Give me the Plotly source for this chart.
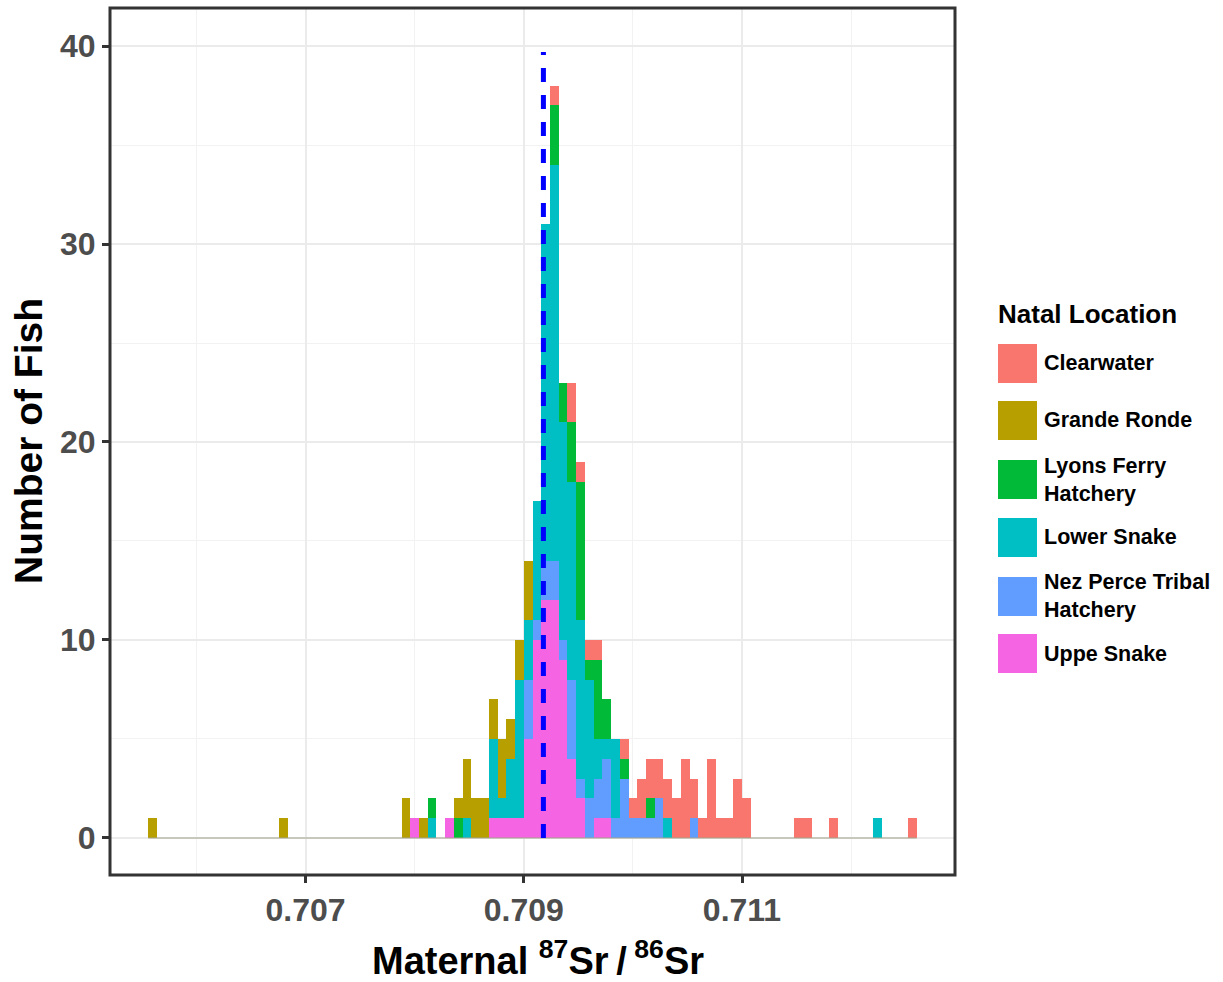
import plotly.graph_objects as go

# ---- histogram binning (87Sr/86Sr) ----
BIN_START = 0.70556
BIN_WIDTH = 0.00008
N_BINS = 88

# ---- counts per bin index, one dict per natal location ----
uppe_snake = {30: 1, 34: 1, 39: 1, 40: 1, 41: 1, 42: 1, 43: 5, 44: 10, 45: 12,
              46: 12, 47: 9, 48: 4, 49: 2, 51: 1, 52: 1}
nez_perce = {43: 3, 44: 1, 45: 2, 46: 2, 47: 1, 48: 4, 49: 1, 50: 2, 51: 2,
             52: 3, 53: 1, 54: 3, 55: 1, 56: 1, 57: 1, 58: 2, 62: 1}
lower_snake = {32: 1, 36: 1, 39: 4, 40: 1, 41: 3, 42: 7, 43: 3, 44: 6, 45: 17,
               46: 20, 47: 11, 48: 10, 49: 8, 50: 6, 51: 2, 52: 1, 53: 4,
               59: 1, 83: 1}
lyons_ferry = {32: 1, 35: 1, 46: 3, 47: 2, 48: 3, 49: 7, 50: 1, 51: 4, 52: 2,
               54: 1, 57: 1}
grande_ronde = {0: 1, 15: 1, 29: 2, 31: 1, 35: 1, 36: 3, 37: 2, 38: 2, 39: 2,
                40: 3, 41: 2, 42: 2, 43: 3}
clearwater = {46: 1, 48: 2, 49: 1, 50: 1, 51: 1, 54: 1, 55: 1, 56: 2, 57: 2,
              58: 2, 59: 2, 60: 2, 61: 4, 62: 2, 63: 1, 64: 4, 65: 1, 66: 1,
              67: 3, 68: 2, 74: 1, 75: 1, 78: 1, 87: 1}

# legend order (top to bottom) and stacking order (bottom to top is reversed)
location_names = ["Clearwater", "Grande Ronde", "Lyons Ferry<br>Hatchery",
                  "Lower Snake", "Nez Perce Tribal<br>Hatchery", "Uppe Snake"]
location_counts = [clearwater, grande_ronde, lyons_ferry, lower_snake,
                   nez_perce, uppe_snake]
location_colors = ["#F8766D", "#B79F00", "#00BA38", "#00BFC4", "#619CFF", "#F564E3"]

# mean maternal ratio, drawn as dashed reference line
mean_ratio = 0.70918
mean_line_top = 39.7

x_ticks = [0.707, 0.709, 0.711]
x_minor = [0.706, 0.708, 0.710, 0.712]
y_ticks = [0, 10, 20, 30, 40]
y_minor = [5, 15, 25, 35]

X_RANGE = [0.705208, 0.712952]
Y_RANGE = [-1.87, 41.92]

FONT = "Liberation Sans, Arial, Helvetica, sans-serif"

# plot-area geometry in pixels
W, H = 1223, 982
PL, PR, PT, PB = 110, 955, 8, 875


def px_x(px):
    return (px - PL) / (PR - PL)


def px_y(py):
    return (PB - py) / (PB - PT)


centers = [BIN_START + (i + 0.5) * BIN_WIDTH for i in range(N_BINS)]
edges = [BIN_START, BIN_START + N_BINS * BIN_WIDTH]

fig = go.Figure()

# thin baseline left by the empty bins
fig.add_trace(go.Scatter(x=edges, y=[0, 0], mode="lines",
                         line=dict(color="#A4A48C", width=1.2),
                         hoverinfo="skip", showlegend=False))

for name, counts, color in reversed(list(zip(location_names, location_counts,
                                              location_colors))):
    fig.add_trace(go.Bar(
        x=centers,
        y=[counts.get(i, 0) for i in range(N_BINS)],
        width=BIN_WIDTH,
        marker=dict(color=color, line=dict(width=0)),
        name=name.replace("<br>", " "),
        showlegend=False,
    ))

fig.add_trace(go.Scatter(x=[mean_ratio, mean_ratio], y=[0, mean_line_top],
                         mode="lines",
                         line=dict(color="#0000FF", width=5, dash="14px,13px"),
                         hoverinfo="skip", showlegend=False))

axis_common = dict(
    showgrid=True, gridcolor="#EBEBEB", gridwidth=1.6,
    zeroline=False, showline=False,
    ticks="outside", ticklen=7, tickwidth=2.5, tickcolor="#333333",
    tickfont=dict(family=FONT, size=32, color="#4D4D4D", weight="bold"),
)

fig.update_xaxes(range=X_RANGE, tickmode="array", tickvals=x_ticks,
                 ticktext=[f"{v:.3f}" for v in x_ticks],
                 minor=dict(tickmode="array", tickvals=x_minor, showgrid=True,
                            gridcolor="#F2F2F2", gridwidth=1, ticks=""),
                 **axis_common)
fig.update_yaxes(range=Y_RANGE, tickmode="array", tickvals=y_ticks,
                 ticktext=[str(v) for v in y_ticks],
                 minor=dict(tickmode="array", tickvals=y_minor, showgrid=True,
                            gridcolor="#F2F2F2", gridwidth=1, ticks=""),
                 **axis_common)

shapes = [dict(type="rect", xref="paper", yref="paper", x0=0, x1=1, y0=0, y1=1,
               line=dict(color="#333333", width=3), fillcolor="rgba(0,0,0,0)",
               layer="above")]
annotations = [
    dict(text="<b>Maternal <sup>87</sup>Sr\u2009/\u2009<sup>86</sup>Sr</b>",
         xref="paper", yref="paper", x=px_x(538), y=px_y(958),
         xanchor="center", yanchor="middle", showarrow=False,
         font=dict(family=FONT, size=38, color="black")),
    dict(text="<b>Number of Fish</b>", textangle=-90,
         xref="paper", yref="paper", x=px_x(28), y=px_y(441),
         xanchor="center", yanchor="middle", showarrow=False,
         font=dict(family=FONT, size=39, color="black")),
    dict(text="<b>Natal Location</b>", xref="paper", yref="paper",
         x=px_x(996), y=px_y(314), xanchor="left", yanchor="middle",
         showarrow=False, font=dict(family=FONT, size=26, color="black")),
]

# legend keys
key_tops = [344, 401, 460, 518, 577, 634]
KEY_SIZE = 39
for name, color, top in zip(location_names, location_colors, key_tops):
    shapes.append(dict(type="rect", xref="paper", yref="paper",
                       x0=px_x(998), x1=px_x(998 + KEY_SIZE),
                       y0=px_y(top + KEY_SIZE), y1=px_y(top),
                       fillcolor=color, line=dict(width=0)))
    annotations.append(dict(text=f"<b>{name}</b>", xref="paper", yref="paper",
                            x=px_x(1042), y=px_y(top + KEY_SIZE / 2),
                            xanchor="left", yanchor="middle", align="left",
                            showarrow=False,
                            font=dict(family=FONT, size=21.5, color="black")))

fig.update_layout(
    width=W, height=H,
    margin=dict(l=PL, r=W - PR, t=PT, b=H - PB),
    plot_bgcolor="white", paper_bgcolor="white",
    barmode="stack", showlegend=False,
    font=dict(family=FONT),
    shapes=shapes, annotations=annotations,
)

fig.write_html("out.html")
